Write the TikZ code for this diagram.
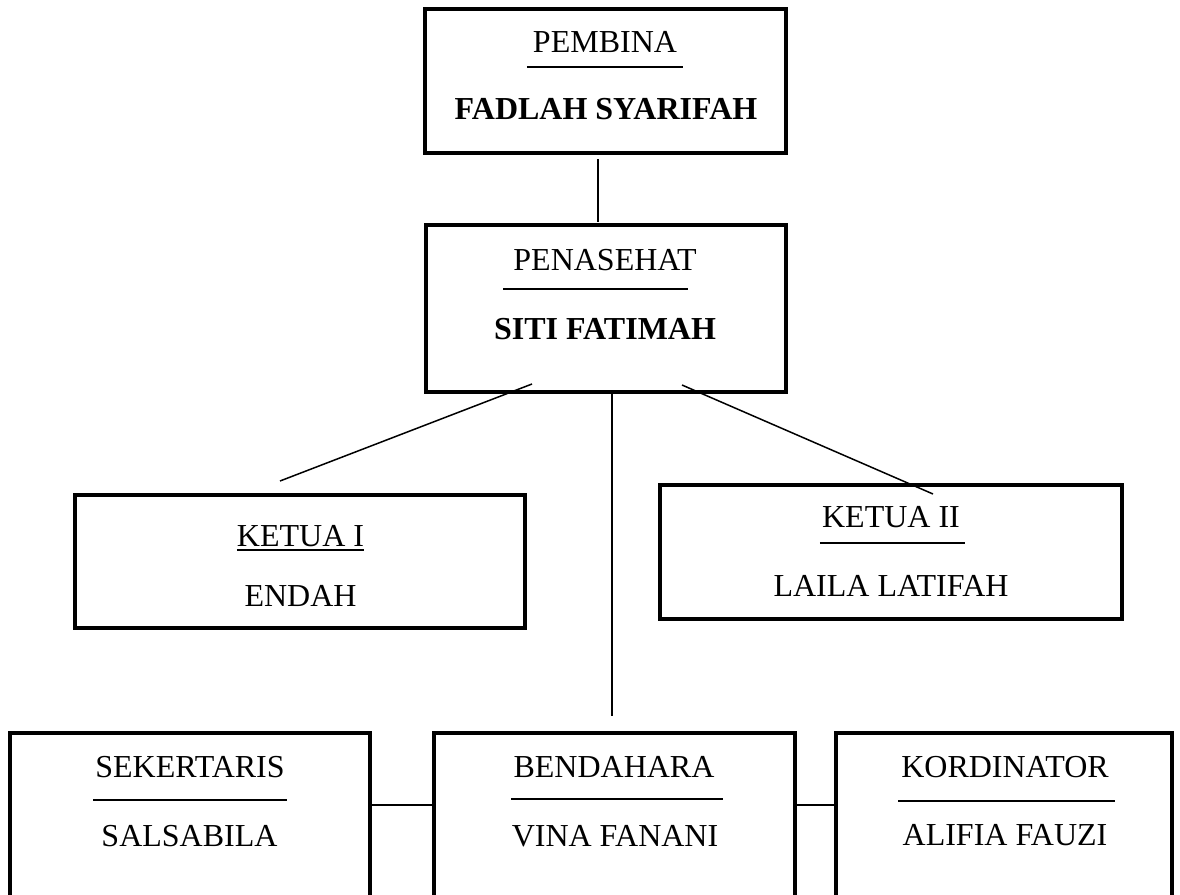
\documentclass[tikz,border=0pt]{standalone}
\usepackage{fontspec}
\setmainfont{Liberation Serif}
\usepackage{tikz}

\begin{document}
\begin{tikzpicture}[x=1pt, y=-1pt,
  kotak/.style={draw, rectangle, line width=4pt, inner sep=0pt, outer sep=0pt},
  judul/.style={anchor=base, inner sep=0pt, font=\fontsize{32}{38}\selectfont},
  tebal/.style={judul, font=\fontsize{32}{38}\selectfont\bfseries},
  garis/.style={line width=2pt},
  hubung/.style={line width=1.5pt}]
\useasboundingbox (0,0) rectangle (1180,894);

% kotak jabatan
\node[kotak, minimum width=361pt, minimum height=144pt] (pembina) at (605.5,81) {};
\node[kotak, minimum width=360pt, minimum height=167pt] (penasehat) at (606,308.5) {};
\node[kotak, minimum width=450pt, minimum height=133pt] (ketua1) at (300,561.5) {};
\node[kotak, minimum width=462pt, minimum height=134pt] (ketua2) at (891,552) {};
\node[kotak, minimum width=360pt, minimum height=200pt] (sekertaris) at (190,833) {};
\node[kotak, minimum width=361pt, minimum height=200pt] (bendahara) at (614.5,833) {};
\node[kotak, minimum width=336pt, minimum height=200pt] (kordinator) at (1004,833) {};

% jabatan dan nama
\node[judul] (t-pembina) at (605,52) {PEMBINA};
\node[tebal] (n-pembina) at (606,119) {FADLAH SYARIFAH};
\node[judul] (t-penasehat) at (605,270) {PENASEHAT};
\node[tebal] (n-penasehat) at (605,339) {SITI FATIMAH};
\node[judul] (t-ketua1) at (300.5,546) {KETUA I};
\node[judul] (n-ketua1) at (300.5,606) {ENDAH};
\node[judul] (t-ketua2) at (891,527) {KETUA II};
\node[judul] (n-ketua2) at (891,596) {LAILA LATIFAH};
\node[judul] (t-sekertaris) at (190,777) {SEKERTARIS};
\node[judul] (n-sekertaris) at (189.5,846) {SALSABILA};
\node[judul] (t-bendahara) at (614,777) {BENDAHARA};
\node[judul] (n-bendahara) at (615,846) {VINA FANANI};
\node[judul] (t-kordinator) at (1005,777) {KORDINATOR};
\node[judul] (n-kordinator) at (1005,845) {ALIFIA FAUZI};

% garis bawah jabatan
\draw[garis] ([xshift=-6pt,yshift=-15pt]t-pembina.base west) -- ([xshift=6pt,yshift=-15pt]t-pembina.base east);
\draw[garis] ([xshift=-10pt,yshift=-19pt]t-penasehat.base west) -- ([xshift=-9pt,yshift=-19pt]t-penasehat.base east);
\draw[garis] ([yshift=-4pt]t-ketua1.base west) -- ([yshift=-4pt]t-ketua1.base east);
\draw[garis] ([xshift=-2pt,yshift=-16pt]t-ketua2.base west) -- ([xshift=5pt,yshift=-16pt]t-ketua2.base east);
\draw[garis] ([xshift=-2pt,yshift=-23pt]t-sekertaris.base west) -- ([xshift=2pt,yshift=-23pt]t-sekertaris.base east);
\draw[garis] ([xshift=-2pt,yshift=-22pt]t-bendahara.base west) -- ([xshift=8pt,yshift=-22pt]t-bendahara.base east);
\draw[garis] ([xshift=-3pt,yshift=-24pt]t-kordinator.base west) -- ([xshift=6pt,yshift=-24pt]t-kordinator.base east);

% garis hubung
\draw[hubung] ([xshift=-7.5pt,yshift=-6pt]pembina.south) -- ([xshift=-8pt,yshift=3pt]penasehat.north);
\draw[hubung] ([xshift=-74pt,yshift=8pt]penasehat.south) -- ([xshift=-20pt,yshift=14pt]ketua1.north);
\draw[hubung] ([xshift=76pt,yshift=7pt]penasehat.south) -- ([xshift=42pt,yshift=-9pt]ketua2.north);
\draw[hubung] ([xshift=6pt]penasehat.south) -- ([xshift=-2.5pt,yshift=17pt]bendahara.north);
\draw[hubung] ([yshift=-72pt]sekertaris.north east) -- ([yshift=-72pt]bendahara.north west);
\draw[hubung] ([yshift=-72pt]bendahara.north east) -- ([yshift=-72pt]kordinator.north west);
\end{tikzpicture}
\end{document}
